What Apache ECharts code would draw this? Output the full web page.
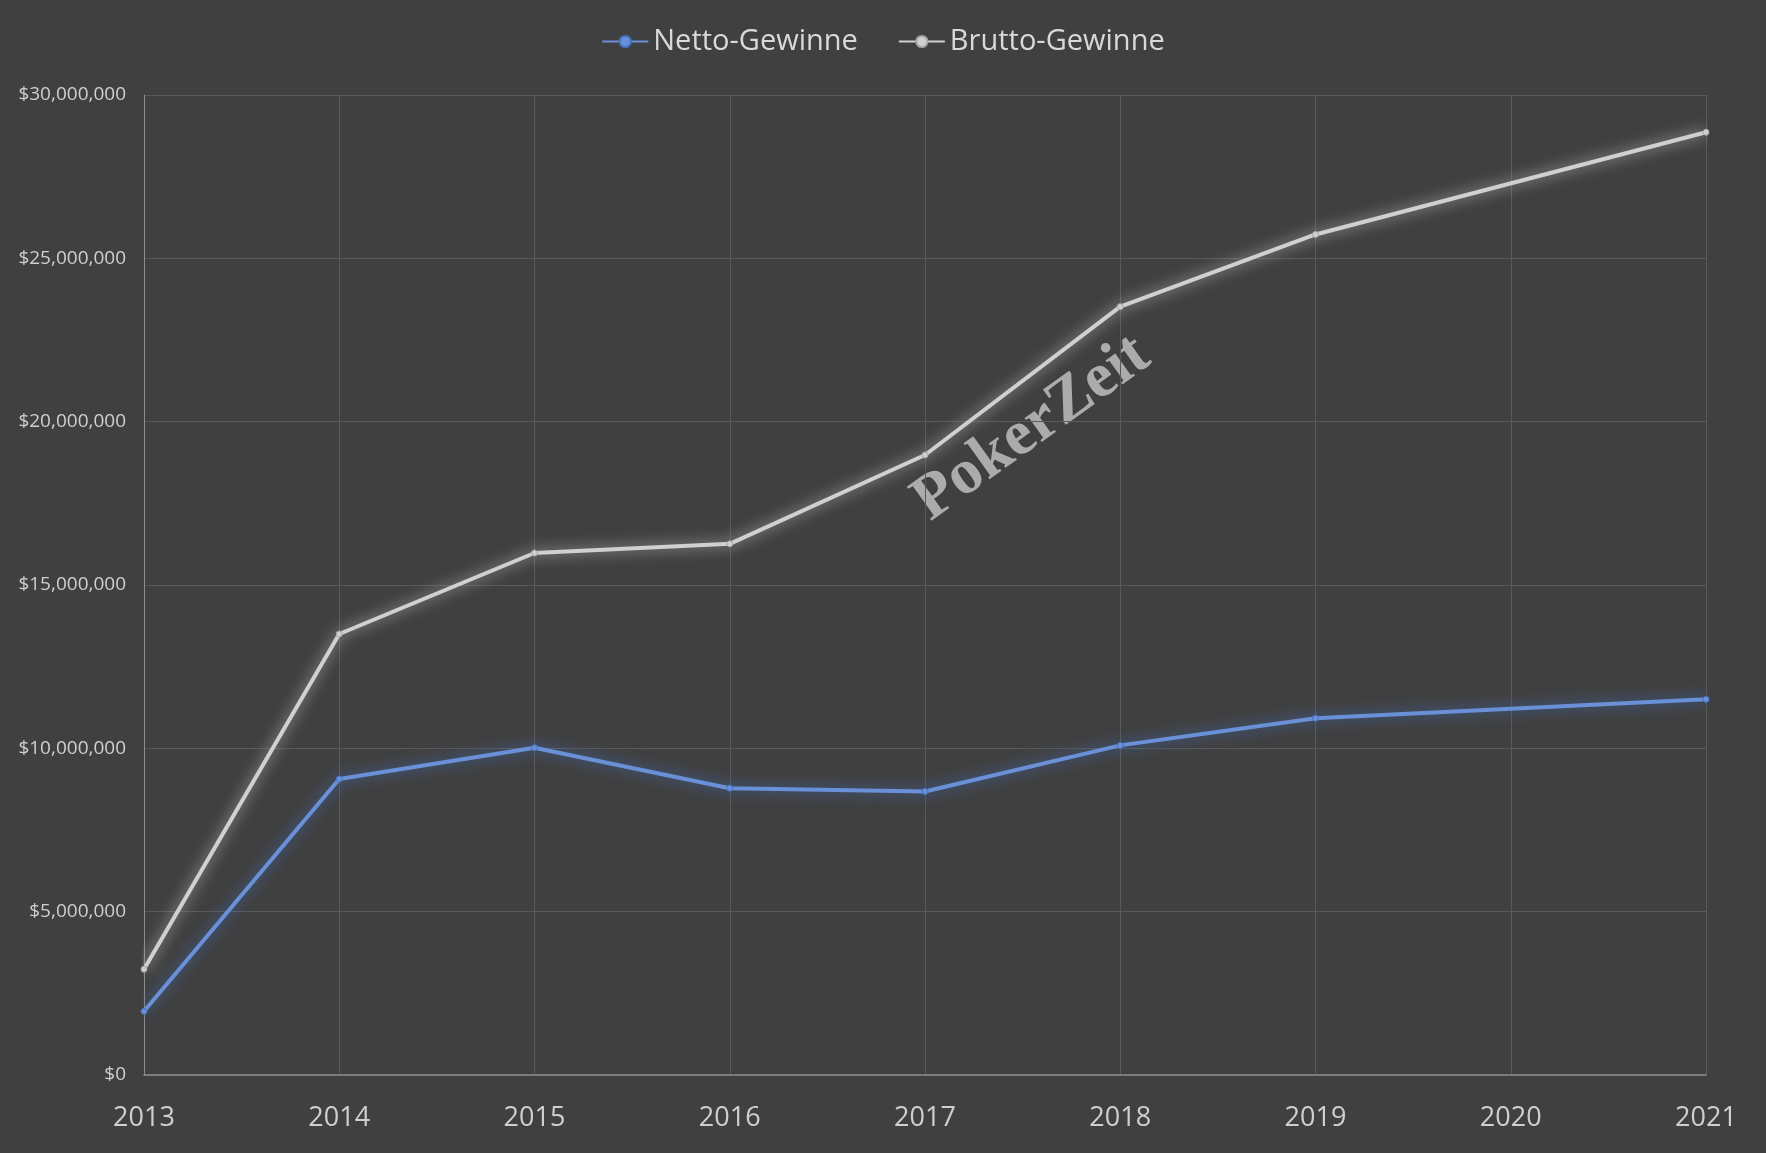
<!DOCTYPE html>
<html>
<head>
<meta charset="utf-8">
<script src="https://cdn.jsdelivr.net/npm/echarts@6/dist/echarts.min.js"></script>
<style>html,body{margin:0;background:#404040}</style>
</head>
<body>
<div id="chart" style="width:1766px;height:1153px;"></div>
<script>
var years = ['2013','2014','2015','2016','2017','2018','2019','2020','2021'];
var netto = [1950000, 9060000, 10020000, 8780000, 8680000, 10090000, 10920000, null, 11500000];
var brutto = [3240000, 13500000, 15980000, 16260000, 18980000, 23520000, 25730000, null, 28860000];

var chart = echarts.init(document.getElementById('chart'));

function fmt(v) {
    return '$' + v.toLocaleString('en-US');
}

var option = {
    backgroundColor: '#404040',
    textStyle: { fontFamily: 'Open Sans, sans-serif' },
    legend: {
        top: 22,
        itemWidth: 46,
        itemGap: 40,
        textStyle: { color: '#d9d9d9', fontSize: 29 },
        data: ['Netto-Gewinne', 'Brutto-Gewinne']
    },
    grid: { left: 144, right: 60, top: 95, bottom: 78 },
    xAxis: {
        type: 'category',
        boundaryGap: false,
        data: years,
        axisLine: { lineStyle: { color: '#8c8c8c', width: 1.5 } },
        axisTick: { show: false },
        axisLabel: { color: '#cfcfcf', fontSize: 27, margin: 30 },
        splitLine: { show: true, lineStyle: { color: '#5a5a5a' } }
    },
    yAxis: {
        type: 'value',
        min: 0,
        max: 30000000,
        interval: 5000000,
        axisLine: { show: true, lineStyle: { color: '#8c8c8c' } },
        axisLabel: { color: '#cfcfcf', fontSize: 19, margin: 18, formatter: fmt },
        splitLine: { lineStyle: { color: '#5a5a5a' } }
    },
    series: [{
        name: 'Netto-Gewinne',
        type: 'line',
        data: netto,
        connectNulls: true,
        symbol: 'circle',
        symbolSize: 6,
        color: '#4472c4',
        lineStyle: { width: 4, shadowColor: 'rgba(68,114,196,0.9)', shadowBlur: 14 },
        itemStyle: { color: '#6a90d8', borderColor: '#4472c4', borderWidth: 1 }
    }, {
        name: 'Brutto-Gewinne',
        type: 'line',
        data: brutto,
        connectNulls: true,
        symbol: 'circle',
        symbolSize: 6,
        color: '#a5a5a5',
        lineStyle: { width: 4, shadowColor: 'rgba(220,220,220,0.8)', shadowBlur: 14 },
        itemStyle: { color: '#d0d0d0', borderColor: '#a5a5a5', borderWidth: 1 }
    }],
    graphic: [{
        type: 'text',
        rotation: 0.62,
        style: {
            text: 'PokerZeit',
            fill: 'rgba(190,190,190,0.85)',
            font: 'bold 64px "Liberation Serif", serif'
        },
        position: [902, 482]
    }]
};

chart.setOption(option);
</script>
</body>
</html>
